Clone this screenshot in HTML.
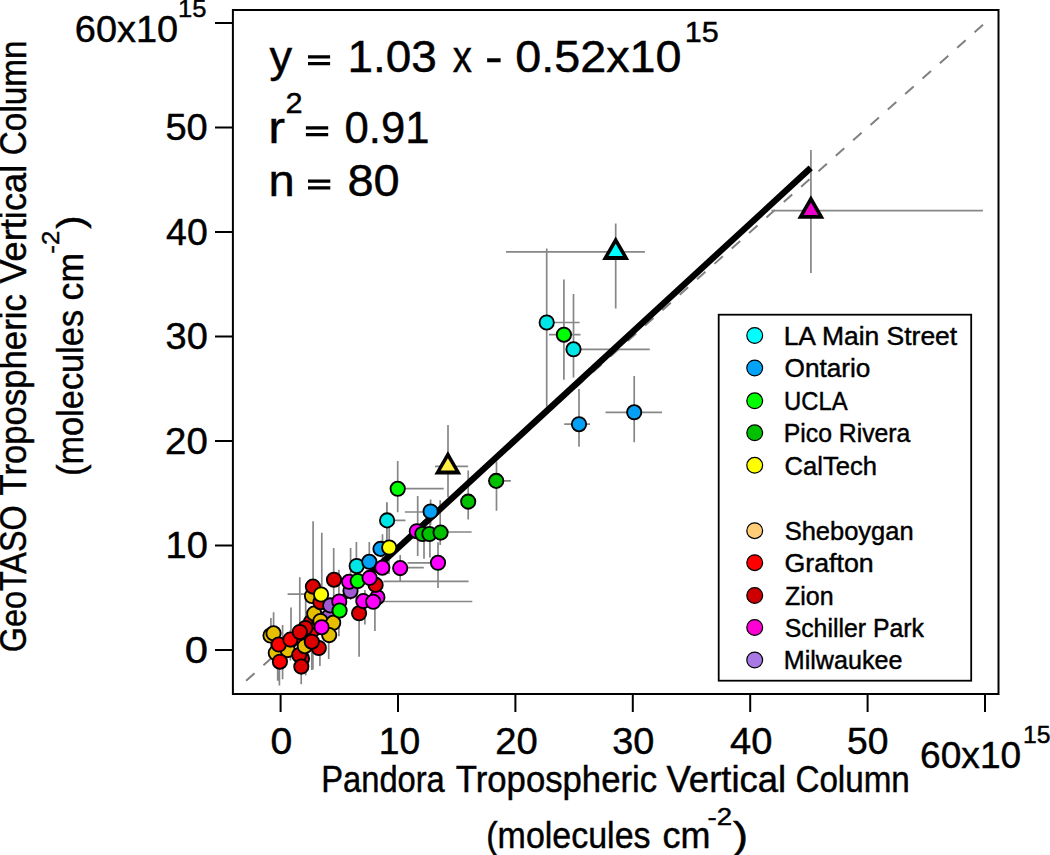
<!DOCTYPE html>
<html><head><meta charset="utf-8"><style>html,body{margin:0;padding:0;background:#fff;}svg{display:block;}</style></head>
<body><svg width="1050" height="855" viewBox="0 0 1050 855">
<rect width="1050" height="855" fill="#fff"/>
<line x1="246.10" y1="680.71" x2="983.24" y2="24.57" stroke="#808080" stroke-width="2" stroke-dasharray="11.3 11.92"/>
<path d="M810.9 150.0V272.9 M771.4 210.6H982.9 M615.7 223.4V308.6 M506.0 251.8H644.9 M448.0 425.0V497.3 M435.0 466.3H468.1 M546.7 248.6V406.7 M540.0 322.5H579.6 M563.9 279.4V379.8 M549.0 334.7H580.5 M573.5 294.0V377.4 M566.0 349.3H649.8 M634.2 376.0V442.2 M605.5 412.3H662.0 M579.0 389.0V446.7 M564.2 424.2H590.0 M496.5 461.4V510.8 M488.0 480.9H510.9 M468.2 470.4V519.5 M440.8 532.0H471.6 M424.0 520.0V558.8 M429.9 520.0V557.4 M440.2 500.3V545.0 M397.7 461.1V512.2 M390.0 488.6H443.7 M387.0 502.2V539.6 M389.2 528.0V545.0 M380.0 520.4H405.5 M430.6 499.4V525.0 M404.8 512.0H424.5 M417.7 496.0V556.0 M438.0 542.3V588.0 M407.5 562.8H445.0 M400.0 567.6H423.8 M400.2 555.0V581.5 M383.5 581.3H468.6 M382.0 601.5H472.3 M386.8 502.3V560.0 M382.5 534.3V560.0 M359.1 600.0V656.7 M364.9 590.0V624.6 M374.9 590.0V631.0 M389.0 560.0V574.0 M356.4 542.0V600.0 M350.6 548.0V600.0 M369.3 542.0V580.0 M338.9 569.7V636.3 M333.7 548.0V600.0 M287.6 594.2H327.0 M313.1 521.3V600.0 M321.8 532.7V610.0 M299.8 577.2V640.0 M305.7 596.0V675.4 M291.0 607.6V650.0 M282.6 625.0V679.2 M273.6 612.3V640.0 M277.7 650.0V680.7 M270.9 618.0V650.0 M279.4 650.0V685.4 M301.2 650.0V684.2 M312.9 640.0V669.6 M319.9 640.0V666.0 M328.7 630.0V659.0 M290.4 630.0V660.5 M311.8 630.0V670.0" stroke="#878787" stroke-width="1.7" fill="none"/>
<line x1="275.3" y1="660.90" x2="810.7" y2="167.93" stroke="#000" stroke-width="6.3"/>
<circle cx="270.5" cy="635.5" r="7.15" fill="#e6c000" stroke="#000" stroke-width="1.85"/>
<circle cx="273.5" cy="633.3" r="7.15" fill="#e6c000" stroke="#000" stroke-width="1.85"/>
<circle cx="275.8" cy="653.0" r="7.15" fill="#e6c000" stroke="#000" stroke-width="1.85"/>
<circle cx="287.6" cy="650.1" r="7.15" fill="#e6c000" stroke="#000" stroke-width="1.85"/>
<circle cx="278.8" cy="644.5" r="7.15" fill="#ff0000" stroke="#000" stroke-width="1.85"/>
<circle cx="279.9" cy="661.7" r="7.15" fill="#ff0000" stroke="#000" stroke-width="1.85"/>
<circle cx="301.3" cy="638.2" r="7.15" fill="#ff0000" stroke="#000" stroke-width="1.85"/>
<circle cx="313.9" cy="629.0" r="7.15" fill="#ff0000" stroke="#000" stroke-width="1.85"/>
<circle cx="290.4" cy="639.6" r="7.15" fill="#ff0000" stroke="#000" stroke-width="1.85"/>
<circle cx="302.0" cy="658.5" r="7.15" fill="#dd0000" stroke="#000" stroke-width="1.85"/>
<circle cx="299.2" cy="655.0" r="7.15" fill="#dd0000" stroke="#000" stroke-width="1.85"/>
<circle cx="301.3" cy="666.6" r="7.15" fill="#dd0000" stroke="#000" stroke-width="1.85"/>
<circle cx="311.0" cy="622.0" r="7.15" fill="#dd0000" stroke="#000" stroke-width="1.85"/>
<circle cx="305.4" cy="628.0" r="7.15" fill="#dd0000" stroke="#000" stroke-width="1.85"/>
<circle cx="299.8" cy="632.0" r="7.15" fill="#dd0000" stroke="#000" stroke-width="1.85"/>
<circle cx="304.8" cy="646.2" r="7.15" fill="#e6c000" stroke="#000" stroke-width="1.85"/>
<circle cx="318.8" cy="648.0" r="7.15" fill="#dd0000" stroke="#000" stroke-width="1.85"/>
<circle cx="311.8" cy="641.7" r="7.15" fill="#dd0000" stroke="#000" stroke-width="1.85"/>
<circle cx="318.8" cy="619.2" r="7.15" fill="#e6c000" stroke="#000" stroke-width="1.85"/>
<circle cx="314.2" cy="613.6" r="7.15" fill="#e6c000" stroke="#000" stroke-width="1.85"/>
<circle cx="329.0" cy="616.5" r="7.15" fill="#a05ad2" stroke="#000" stroke-width="1.85"/>
<circle cx="320.5" cy="621.0" r="7.15" fill="#e6c000" stroke="#000" stroke-width="1.85"/>
<circle cx="333.2" cy="622.8" r="7.15" fill="#e6c000" stroke="#000" stroke-width="1.85"/>
<circle cx="329.2" cy="635.1" r="7.15" fill="#e6c000" stroke="#000" stroke-width="1.85"/>
<circle cx="321.6" cy="627.2" r="7.15" fill="#ff00ff" stroke="#000" stroke-width="1.85"/>
<circle cx="312.0" cy="596.0" r="7.15" fill="#e6c000" stroke="#000" stroke-width="1.85"/>
<circle cx="320.4" cy="602.2" r="7.15" fill="#dd0000" stroke="#000" stroke-width="1.85"/>
<circle cx="312.9" cy="586.6" r="7.15" fill="#dd0000" stroke="#000" stroke-width="1.85"/>
<circle cx="321.1" cy="594.5" r="7.15" fill="#ffff00" stroke="#000" stroke-width="1.85"/>
<circle cx="334.0" cy="579.7" r="7.15" fill="#dd0000" stroke="#000" stroke-width="1.85"/>
<circle cx="330.2" cy="605.4" r="7.15" fill="#a05ad2" stroke="#000" stroke-width="1.85"/>
<circle cx="339.3" cy="601.5" r="7.15" fill="#ff00ff" stroke="#000" stroke-width="1.85"/>
<circle cx="339.6" cy="610.6" r="7.15" fill="#00ff00" stroke="#000" stroke-width="1.85"/>
<circle cx="350.5" cy="591.0" r="7.15" fill="#a05ad2" stroke="#000" stroke-width="1.85"/>
<circle cx="349.1" cy="581.8" r="7.15" fill="#ff00ff" stroke="#000" stroke-width="1.85"/>
<circle cx="357.7" cy="581.1" r="7.15" fill="#00ff00" stroke="#000" stroke-width="1.85"/>
<circle cx="359.1" cy="613.3" r="7.15" fill="#dd0000" stroke="#000" stroke-width="1.85"/>
<circle cx="377.4" cy="597.2" r="7.15" fill="#ff00ff" stroke="#000" stroke-width="1.85"/>
<circle cx="363.3" cy="601.1" r="7.15" fill="#ff00ff" stroke="#000" stroke-width="1.85"/>
<circle cx="373.2" cy="601.8" r="7.15" fill="#ff00ff" stroke="#000" stroke-width="1.85"/>
<circle cx="375.6" cy="584.9" r="7.15" fill="#dd0000" stroke="#000" stroke-width="1.85"/>
<circle cx="369.6" cy="577.9" r="7.15" fill="#ff00ff" stroke="#000" stroke-width="1.85"/>
<circle cx="356.7" cy="566.0" r="7.15" fill="#00e6e6" stroke="#000" stroke-width="1.85"/>
<circle cx="369.3" cy="561.8" r="7.15" fill="#05a0f5" stroke="#000" stroke-width="1.85"/>
<circle cx="382.3" cy="567.7" r="7.15" fill="#ff00ff" stroke="#000" stroke-width="1.85"/>
<circle cx="400.2" cy="568.1" r="7.15" fill="#ff00ff" stroke="#000" stroke-width="1.85"/>
<circle cx="380.5" cy="548.9" r="7.15" fill="#05a0f5" stroke="#000" stroke-width="1.85"/>
<circle cx="389.2" cy="547.5" r="7.15" fill="#ffff00" stroke="#000" stroke-width="1.85"/>
<circle cx="387.1" cy="520.4" r="7.15" fill="#00e6e6" stroke="#000" stroke-width="1.85"/>
<circle cx="397.7" cy="488.8" r="7.15" fill="#00ff00" stroke="#000" stroke-width="1.85"/>
<circle cx="430.6" cy="511.5" r="7.15" fill="#05a0f5" stroke="#000" stroke-width="1.85"/>
<circle cx="416.8" cy="531.2" r="7.15" fill="#ff00ff" stroke="#000" stroke-width="1.85"/>
<circle cx="422.4" cy="534.0" r="7.15" fill="#00c000" stroke="#000" stroke-width="1.85"/>
<circle cx="429.4" cy="534.0" r="7.15" fill="#00c000" stroke="#000" stroke-width="1.85"/>
<circle cx="440.6" cy="532.6" r="7.15" fill="#00c000" stroke="#000" stroke-width="1.85"/>
<circle cx="438.0" cy="562.8" r="7.15" fill="#ff00ff" stroke="#000" stroke-width="1.85"/>
<circle cx="468.2" cy="501.6" r="7.15" fill="#00c000" stroke="#000" stroke-width="1.85"/>
<circle cx="496.2" cy="480.9" r="7.15" fill="#00c000" stroke="#000" stroke-width="1.85"/>
<circle cx="546.7" cy="322.5" r="7.15" fill="#00e6e6" stroke="#000" stroke-width="1.85"/>
<circle cx="563.9" cy="334.7" r="7.15" fill="#00ff00" stroke="#000" stroke-width="1.85"/>
<circle cx="573.5" cy="349.3" r="7.15" fill="#00e6e6" stroke="#000" stroke-width="1.85"/>
<circle cx="579.0" cy="424.2" r="7.15" fill="#05a0f5" stroke="#000" stroke-width="1.85"/>
<circle cx="634.2" cy="412.3" r="7.15" fill="#05a0f5" stroke="#000" stroke-width="1.85"/>
<path d="M810.9 195.3L824.4 218.7L797.4 218.7Z" fill="#000"/>
<path d="M810.9 202.6L818.1 214.9L803.7 214.9Z" fill="#ee00cc"/>
<path d="M615.7 236.5L629.2 259.9L602.2 259.9Z" fill="#000"/>
<path d="M615.7 243.8L622.9 256.1L608.5 256.1Z" fill="#00ffff"/>
<path d="M447.9 451.0L461.3 474.4L434.4 474.4Z" fill="#000"/>
<path d="M447.9 458.3L455.1 470.6L440.7 470.6Z" fill="#ffee44"/>
<rect x="232.9" y="10" width="765.6" height="684" fill="none" stroke="#000" stroke-width="2"/>
<path d="M215 650.0H232.8 M280.6 694V712 M215 545.5H232.8 M398.0 694V712 M215 441.0H232.8 M515.4 694V712 M215 336.5H232.8 M632.8 694V712 M215 232.0H232.8 M750.2 694V712 M215 127.5H232.8 M867.6 694V712 M215 23.0H232.8 M985.0 694V712" stroke="#000" stroke-width="2"/>
<g font-family="Liberation Sans, sans-serif" fill="#000" stroke="#000" stroke-width="0.45">
<text x="184.67" y="662.50" font-size="36.5" textLength="23.27" lengthAdjust="spacingAndGlyphs" >0</text>
<text x="165.50" y="558.00" font-size="36.5" textLength="42.28" lengthAdjust="spacingAndGlyphs" >10</text>
<text x="165.07" y="453.50" font-size="36.5" textLength="42.73" lengthAdjust="spacingAndGlyphs" >20</text>
<text x="165.55" y="349.00" font-size="36.5" textLength="42.23" lengthAdjust="spacingAndGlyphs" >30</text>
<text x="166.14" y="244.50" font-size="36.5" textLength="41.62" lengthAdjust="spacingAndGlyphs" >40</text>
<text x="165.48" y="140.00" font-size="36.5" textLength="42.31" lengthAdjust="spacingAndGlyphs" >50</text>
<text x="74.88" y="42.00" font-size="36.5" textLength="103.20" lengthAdjust="spacingAndGlyphs" >60x10</text>
<text x="178.05" y="17.00" font-size="23.5" textLength="28.42" lengthAdjust="spacingAndGlyphs" >15</text>
<text x="270.47" y="754.40" font-size="36.5" textLength="21.76" lengthAdjust="spacingAndGlyphs" >0</text>
<text x="378.87" y="754.40" font-size="36.5" textLength="41.39" lengthAdjust="spacingAndGlyphs" >10</text>
<text x="495.18" y="754.40" font-size="36.5" textLength="42.52" lengthAdjust="spacingAndGlyphs" >20</text>
<text x="612.26" y="754.40" font-size="36.5" textLength="42.12" lengthAdjust="spacingAndGlyphs" >30</text>
<text x="730.03" y="754.40" font-size="36.5" textLength="42.36" lengthAdjust="spacingAndGlyphs" >40</text>
<text x="847.11" y="754.40" font-size="36.5" textLength="41.45" lengthAdjust="spacingAndGlyphs" >50</text>
<text x="920.12" y="768.00" font-size="36.5" textLength="101.03" lengthAdjust="spacingAndGlyphs" >60x10</text>
<text x="1023.12" y="743.00" font-size="23.5" textLength="27.52" lengthAdjust="spacingAndGlyphs" >15</text>
<text x="321.22" y="791.80" font-size="36" textLength="123.58" lengthAdjust="spacingAndGlyphs" >Pandora</text>
<text x="455.83" y="791.80" font-size="36" textLength="201.28" lengthAdjust="spacingAndGlyphs" >Tropospheric</text>
<text x="666.54" y="791.80" font-size="36" textLength="119.66" lengthAdjust="spacingAndGlyphs" >Vertical</text>
<text x="795.41" y="791.80" font-size="36" textLength="114.44" lengthAdjust="spacingAndGlyphs" >Column</text>
<text x="486.29" y="848.30" font-size="36" textLength="164.23" lengthAdjust="spacingAndGlyphs" >(molecules</text>
<text x="662.47" y="848.30" font-size="36" textLength="47.89" lengthAdjust="spacingAndGlyphs" >cm</text>
<text x="733.03" y="848.30" font-size="36" textLength="15.07" lengthAdjust="spacingAndGlyphs" >)</text>
<text x="707.58" y="825.30" font-size="23.5" textLength="24.51" lengthAdjust="spacingAndGlyphs" >-2</text>
<text transform="translate(26.4,700) rotate(-90)" x="47.70" y="0" font-size="36" textLength="147.03" lengthAdjust="spacingAndGlyphs">GeoTASO</text>
<text transform="translate(26.4,700) rotate(-90)" x="204.53" y="0" font-size="36" textLength="201.28" lengthAdjust="spacingAndGlyphs">Tropospheric</text>
<text transform="translate(26.4,700) rotate(-90)" x="416.44" y="0" font-size="36" textLength="118.74" lengthAdjust="spacingAndGlyphs">Vertical</text>
<text transform="translate(26.4,700) rotate(-90)" x="544.81" y="0" font-size="36" textLength="114.86" lengthAdjust="spacingAndGlyphs">Column</text>
<text transform="translate(83.2,700) rotate(-90)" x="223.97" y="0" font-size="36" textLength="166.17" lengthAdjust="spacingAndGlyphs">(molecules</text>
<text transform="translate(83.2,700) rotate(-90)" x="399.59" y="0" font-size="36" textLength="47.46" lengthAdjust="spacingAndGlyphs">cm</text>
<text transform="translate(83.2,700) rotate(-90)" x="471.17" y="0" font-size="36" textLength="13.31" lengthAdjust="spacingAndGlyphs">)</text>
<text transform="translate(59.3,700) rotate(-90)" x="446.25" y="0" font-size="23.5" textLength="23.06" lengthAdjust="spacingAndGlyphs">-2</text>
<text x="269.49" y="72.10" font-size="45" textLength="22.60" lengthAdjust="spacingAndGlyphs" >y</text>
<path d="M308 55.30h22.10v3.3h-22.10z M308 62.10h22.10v3.2h-22.10z" stroke="none"/>
<text x="347.50" y="72.10" font-size="45" textLength="89.42" lengthAdjust="spacingAndGlyphs" >1.03</text>
<text x="452.67" y="72.10" font-size="45" textLength="19.14" lengthAdjust="spacingAndGlyphs" >x</text>
<text x="485.05" y="72.10" font-size="45" textLength="17.60" lengthAdjust="spacingAndGlyphs" >-</text>
<text x="515.17" y="72.10" font-size="45" textLength="166.35" lengthAdjust="spacingAndGlyphs" >0.52x10</text>
<text x="684.67" y="41.70" font-size="29" textLength="34.01" lengthAdjust="spacingAndGlyphs" >15</text>
<text x="268.25" y="143.00" font-size="45" textLength="16.78" lengthAdjust="spacingAndGlyphs" >r</text>
<text x="285.45" y="113.00" font-size="29" textLength="17.09" lengthAdjust="spacingAndGlyphs" >2</text>
<path d="M305.9 126.20h22.30v3.3h-22.30z M305.9 133.00h22.30v3.2h-22.30z" stroke="none"/>
<text x="344.60" y="143.00" font-size="45" textLength="84.94" lengthAdjust="spacingAndGlyphs" >0.91</text>
<text x="268.47" y="196.30" font-size="45" textLength="26.18" lengthAdjust="spacingAndGlyphs" >n</text>
<path d="M308 179.50h22.30v3.3h-22.30z M308 186.30h22.30v3.2h-22.30z" stroke="none"/>
<text x="347.46" y="196.30" font-size="45" textLength="52.28" lengthAdjust="spacingAndGlyphs" >80</text>
</g>
<rect x="718.7" y="314.7" width="252.5" height="366" fill="#fff" stroke="#000" stroke-width="1.8"/>
<g font-family="Liberation Sans, sans-serif" fill="#000" stroke="#000" stroke-width="0.45">
<circle cx="754.7" cy="335.5" r="7.9" fill="#00ffff" stroke="#000" stroke-width="1.2"/>
<text x="783.65" y="344.90" font-size="26" textLength="173.54" lengthAdjust="spacingAndGlyphs" >LA Main Street</text>
<circle cx="754.7" cy="368" r="7.9" fill="#03a3fa" stroke="#000" stroke-width="1.2"/>
<text x="784.56" y="377.40" font-size="26" textLength="85.84" lengthAdjust="spacingAndGlyphs" >Ontario</text>
<circle cx="754.7" cy="400.8" r="7.9" fill="#00ff00" stroke="#000" stroke-width="1.2"/>
<text x="783.96" y="410.20" font-size="26" textLength="63.59" lengthAdjust="spacingAndGlyphs" >UCLA</text>
<circle cx="754.7" cy="432.8" r="7.9" fill="#00c000" stroke="#000" stroke-width="1.2"/>
<text x="783.77" y="442.20" font-size="26" textLength="126.63" lengthAdjust="spacingAndGlyphs" >Pico Rivera</text>
<circle cx="754.7" cy="465.3" r="7.9" fill="#ffff00" stroke="#000" stroke-width="1.2"/>
<text x="784.54" y="474.70" font-size="26" textLength="92.37" lengthAdjust="spacingAndGlyphs" >CalTech</text>
<circle cx="754.7" cy="530.7" r="7.9" fill="#ffcc77" stroke="#000" stroke-width="1.2"/>
<text x="784.64" y="540.10" font-size="26" textLength="129.01" lengthAdjust="spacingAndGlyphs" >Sheboygan</text>
<circle cx="754.7" cy="562.7" r="7.9" fill="#ff0000" stroke="#000" stroke-width="1.2"/>
<text x="784.45" y="572.10" font-size="26" textLength="89.29" lengthAdjust="spacingAndGlyphs" >Grafton</text>
<circle cx="754.7" cy="595.5" r="7.9" fill="#cc0000" stroke="#000" stroke-width="1.2"/>
<text x="785.01" y="604.90" font-size="26" textLength="48.62" lengthAdjust="spacingAndGlyphs" >Zion</text>
<circle cx="754.7" cy="627.5" r="7.9" fill="#ff00d4" stroke="#000" stroke-width="1.2"/>
<text x="784.67" y="636.90" font-size="26" textLength="139.29" lengthAdjust="spacingAndGlyphs" >Schiller Park</text>
<circle cx="754.7" cy="660" r="7.9" fill="#a878e4" stroke="#000" stroke-width="1.2"/>
<text x="783.74" y="669.40" font-size="26" textLength="118.68" lengthAdjust="spacingAndGlyphs" >Milwaukee</text>
</g>
</svg></body></html>
